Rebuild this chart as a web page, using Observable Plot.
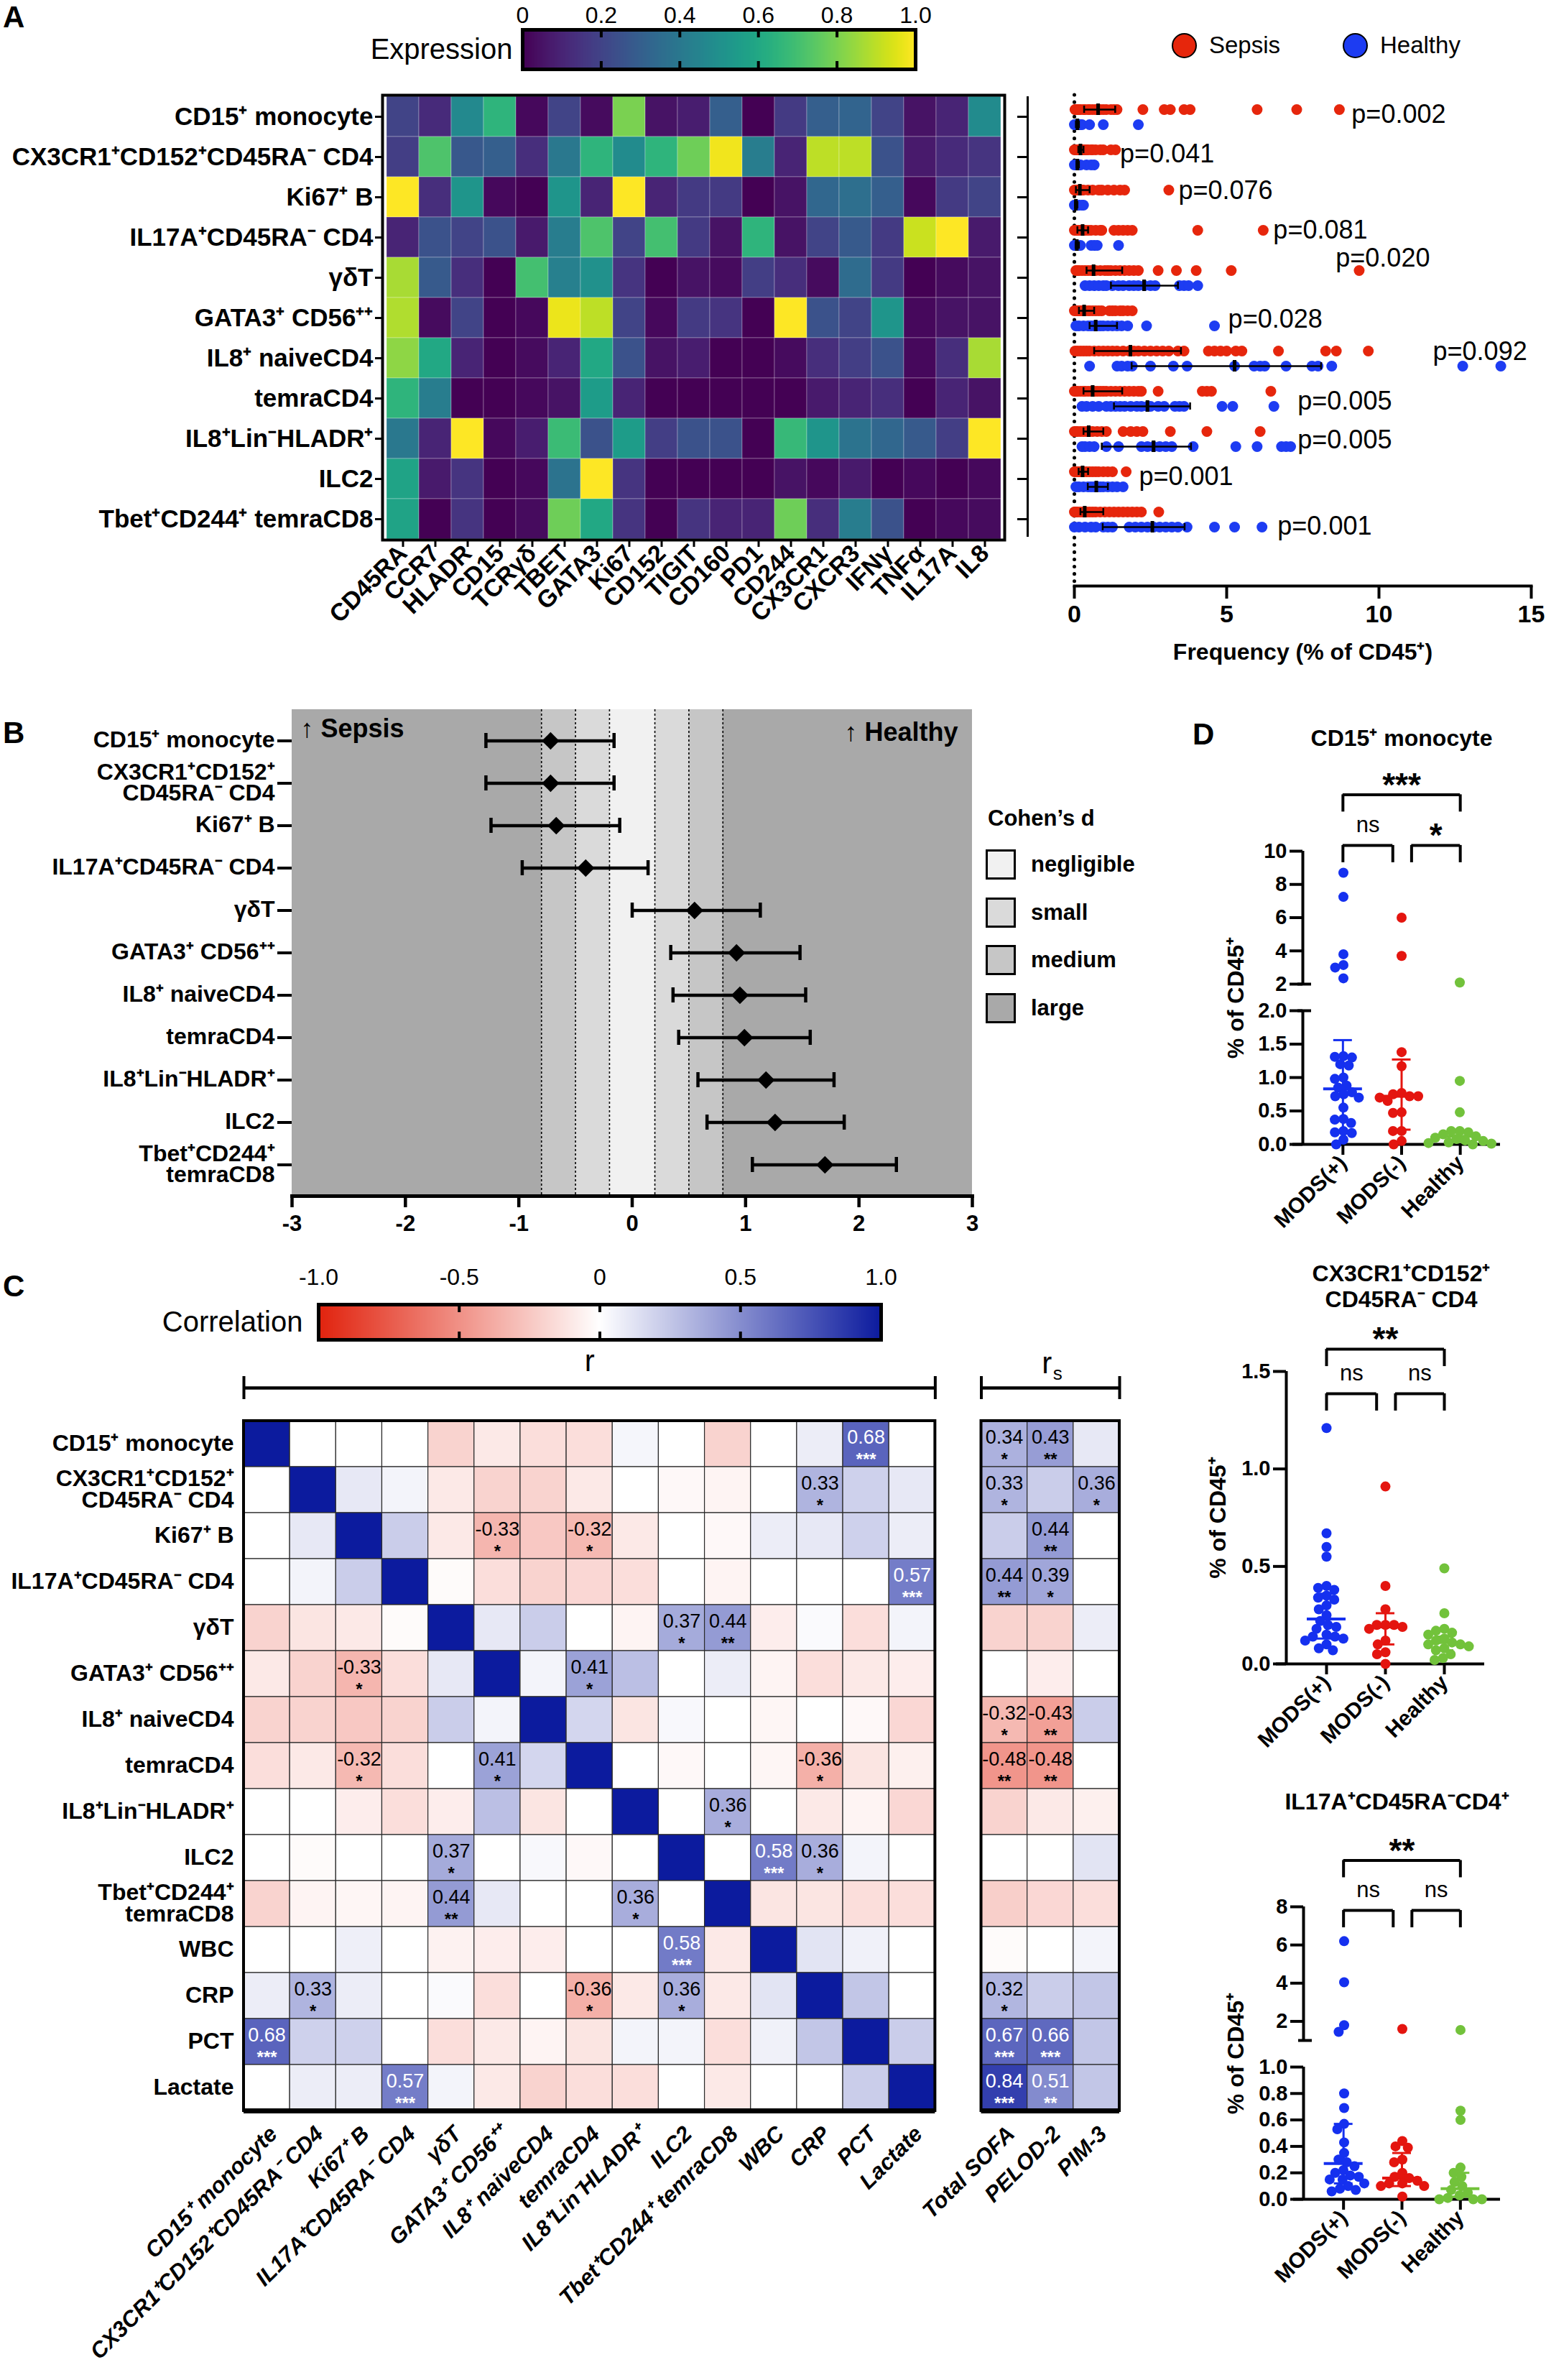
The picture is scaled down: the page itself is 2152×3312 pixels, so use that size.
<!DOCTYPE html>
<html><head><meta charset="utf-8">
<script src="https://cdn.jsdelivr.net/npm/d3@7"></script>
<script src="https://cdn.jsdelivr.net/npm/@observablehq/plot@0.6"></script>
<style>
body{margin:0;background:#fff;}
#page{position:relative;width:2152px;height:3312px;overflow:hidden;background:#fff;font-family:'Liberation Sans',Arial,Helvetica,sans-serif;color:#000;}
.lbl{position:absolute;white-space:nowrap;line-height:1;}
</style></head>
<body><div id="page"></div>
<script>
// ===================== DATA =====================
// Panel A
const markersA = ["CD45RA","CCR7","HLADR","CD15","TCRγδ","TBET","GATA3","Ki67","CD152","TIGIT","CD160","PD1","CD244","CX3CR1","CXCR3","IFNγ","TNFα","IL17A","IL8"];
const cellTypes = ["CD15⁺ monocyte","CX3CR1⁺CD152⁺CD45RA⁻ CD4","Ki67⁺ B","IL17A⁺CD45RA⁻ CD4","γδT","GATA3⁺ CD56⁺⁺","IL8⁺ naiveCD4","temraCD4","IL8⁺Lin⁻HLADR⁺","ILC2","Tbet⁺CD244⁺ temraCD8"];
const expression = [
 [0.2,0.12,0.47,0.65,0.02,0.2,0.03,0.8,0.05,0.08,0.3,0.0,0.17,0.3,0.32,0.2,0.05,0.1,0.48],
 [0.18,0.72,0.27,0.3,0.13,0.4,0.65,0.48,0.65,0.78,0.98,0.42,0.1,0.9,0.9,0.25,0.07,0.12,0.15],
 [1.0,0.13,0.52,0.02,0.0,0.52,0.1,1.0,0.1,0.17,0.17,0.0,0.05,0.33,0.36,0.3,0.02,0.17,0.2],
 [0.1,0.25,0.2,0.25,0.07,0.42,0.72,0.2,0.7,0.17,0.05,0.65,0.05,0.2,0.28,0.17,0.92,1.0,0.07],
 [0.87,0.28,0.13,0.0,0.7,0.43,0.5,0.15,0.0,0.05,0.03,0.18,0.13,0.03,0.35,0.17,0.0,0.03,0.05],
 [0.88,0.03,0.2,0.0,0.02,0.97,0.9,0.2,0.02,0.17,0.15,0.0,1.0,0.25,0.2,0.52,0.02,0.05,0.05],
 [0.83,0.6,0.1,0.0,0.03,0.1,0.6,0.25,0.05,0.08,0.0,0.0,0.03,0.13,0.18,0.25,0.02,0.13,0.87],
 [0.65,0.42,0.0,0.0,0.02,0.05,0.55,0.1,0.0,0.0,0.0,0.0,0.0,0.07,0.1,0.13,0.0,0.1,0.05],
 [0.4,0.1,1.0,0.02,0.08,0.68,0.25,0.55,0.18,0.25,0.25,0.0,0.67,0.52,0.38,0.33,0.28,0.18,1.0],
 [0.58,0.07,0.15,0.0,0.02,0.38,1.0,0.15,0.0,0.0,0.0,0.0,0.05,0.02,0.07,0.0,0.02,0.0,0.02],
 [0.58,0.0,0.15,0.0,0.03,0.78,0.6,0.15,0.0,0.15,0.1,0.1,0.78,0.13,0.42,0.25,0.0,0.02,0.03]
];
const expressionTicks = [0,0.2,0.4,0.6,0.8,1.0];
const sepsisFreq = [
 [0.02,0.05,0.1,0.15,0.2,0.3,0.35,0.45,0.5,0.6,0.7,0.75,0.85,0.95,1.05,1.2,1.3,1.4,2.25,2.95,3.15,3.6,3.8,6.0,7.3,8.7],
 [0,0.05,0.1,0.12,0.15,0.18,0.2,0.22,0.25,0.3,0.35,0.4,0.45,0.55,0.6,0.7,0.85,0.95,1.2,1.35],
 [0,0.05,0.1,0.12,0.15,0.2,0.25,0.3,0.45,0.6,0.8,0.9,1.1,1.3,1.5,1.65,3.1],
 [0,0.05,0.1,0.15,0.2,0.25,0.3,0.35,0.45,0.55,0.7,0.85,0.9,1.3,1.45,1.6,1.75,1.9,4.05,6.2],
 [0.05,0.1,0.15,0.25,0.35,0.45,0.55,0.6,0.7,0.85,1.0,1.1,1.2,1.35,1.5,1.65,1.8,1.95,2.1,2.75,3.35,4.0,5.15,9.35],
 [0,0.05,0.1,0.15,0.2,0.25,0.3,0.35,0.45,0.5,0.6,0.7,0.8,0.9,1.15,1.25,1.35,1.5,1.6,1.75,1.9],
 [0.02,0.1,0.2,0.3,0.4,0.5,0.65,0.8,0.95,1.1,1.25,1.4,1.6,1.8,1.95,2.1,2.3,2.5,2.7,2.9,3.1,3.4,3.6,4.4,4.6,4.8,5.0,5.3,5.5,6.7,8.25,8.6,9.65],
 [0,0.05,0.1,0.2,0.3,0.35,0.45,0.55,0.65,0.75,0.85,0.95,1.05,1.2,1.35,1.5,1.65,1.8,1.95,2.1,2.2,2.75,4.2,4.35,4.5,6.45],
 [0,0.05,0.1,0.2,0.3,0.4,0.5,0.6,0.75,0.9,1.05,1.6,1.85,2.05,2.25,3.15,4.35,6.1],
 [0,0.05,0.1,0.15,0.2,0.25,0.3,0.4,0.5,0.6,0.7,0.8,0.95,1.1,1.25,1.7],
 [0,0.05,0.1,0.2,0.3,0.4,0.5,0.6,0.7,0.85,1.0,1.15,1.3,1.45,1.6,1.75,1.9,2.05,2.2,2.77]
];
const healthyFreq = [
 [0,0.05,0.08,0.1,0.12,0.15,0.2,0.25,0.5,0.95,2.1],
 [0,0.05,0.08,0.1,0.12,0.15,0.2,0.4,0.55,0.65],
 [0,0.02,0.05,0.08,0.1,0.15,0.25,0.3],
 [0,0.03,0.05,0.1,0.12,0.2,0.55,0.65,0.75,1.45],
 [0.35,0.5,0.65,0.8,0.95,1.05,1.25,1.45,1.6,1.8,1.95,2.1,2.3,2.5,2.65,3.45,3.6,3.75,4.05],
 [0.05,0.15,0.3,0.45,0.55,0.65,0.75,0.85,0.95,1.1,1.25,1.4,1.55,1.75,2.37,4.6],
 [0.5,1.4,1.55,1.75,1.9,2.5,3.25,3.7,5.26,5.9,6.1,6.25,6.95,7.8,8.0,8.45,12.75,14.0],
 [0.25,0.4,0.6,0.8,1.05,1.2,1.35,1.5,1.65,1.85,2.05,2.2,2.4,2.5,2.75,2.95,3.3,3.45,3.6,4.85,5.2,6.55],
 [0.25,0.35,0.5,0.65,1.05,1.45,2.2,2.4,2.6,2.8,3.0,3.2,3.9,5.3,6.0,6.8,6.95,7.1],
 [0.05,0.15,0.3,0.45,0.55,0.65,0.75,0.85,0.95,1.1,1.25,1.4,1.6],
 [0,0.15,0.35,0.55,0.7,0.95,1.1,1.25,1.8,2.0,2.2,2.4,2.6,2.8,3.0,3.2,3.4,3.7,4.6,5.26,6.16]
];
const sepsisMedian = [0.78,0.2,0.18,0.27,0.63,0.32,1.84,0.6,0.47,0.27,0.34];
const sepsisQ1 = [0.32,0.13,0.05,0.1,0.4,0.15,0.65,0.3,0.3,0.14,0.2];
const sepsisQ3 = [1.34,0.3,0.5,0.45,1.57,0.65,3.5,1.57,0.95,0.45,0.95];
const healthyMedian = [0.1,0.1,0.05,0.08,2.29,0.7,5.26,2.4,2.6,0.72,2.56];
const healthyQ1 = [0.05,0.07,0.02,0.04,1.2,0.5,1.88,1.3,0.9,0.44,0.93];
const healthyQ3 = [0.15,0.15,0.1,0.15,3.4,1.4,8.1,3.8,3.83,1.1,3.62];
const pValues = ["p=0.002","p=0.041","p=0.076","p=0.081","p=0.020","p=0.028","p=0.092","p=0.005","p=0.005","p=0.001","p=0.001"];
const pLabelAt = [9.1,1.5,3.42,6.53,8.58,5.05,11.77,7.33,7.33,2.12,6.67];
const freqTicks = [0,5,10,15];

// Panel B
const cohenD  = [-0.72,-0.72,-0.67,-0.41,0.55,0.92,0.95,0.99,1.18,1.26,1.70];
const cohenLo = [-1.29,-1.29,-1.245,-0.97,0.0,0.34,0.36,0.41,0.58,0.66,1.06];
const cohenHi = [-0.16,-0.16,-0.11,0.14,1.13,1.48,1.53,1.57,1.78,1.87,2.33];
const cohenLevels = ["negligible","small","medium","large"];
const cohenCut = [0.2,0.5,0.8];
const cohenGrays = ["#f1f1f1","#dadada","#c6c6c6","#a9a9a9"];
const cohenTicks = [-3,-2,-1,0,1,2,3];

// Panel C
const cFeatures = ["CD15⁺ monocyte","CX3CR1⁺CD152⁺CD45RA⁻ CD4","Ki67⁺ B","IL17A⁺CD45RA⁻ CD4","γδT","GATA3⁺ CD56⁺⁺","IL8⁺ naiveCD4","temraCD4","IL8⁺Lin⁻HLADR⁺","ILC2","Tbet⁺CD244⁺ temraCD8","WBC","CRP","PCT","Lactate"];
const cScores = ["Total SOFA","PELOD-2","PIM-3"];
const corrMain = [
 [1,0,0,0,-0.2,-0.1,-0.15,-0.15,0.04,0,-0.2,0,0.08,0.68,0],
 [0,1,0.1,0.05,-0.1,-0.2,-0.2,-0.1,0,-0.03,-0.05,0,0.33,0.2,0.1],
 [0,0.1,1,0.22,-0.1,-0.33,-0.25,-0.32,-0.1,0,-0.03,0.08,0.1,0.2,0.08],
 [0,0.05,0.22,1,-0.02,-0.15,-0.2,-0.18,-0.15,0,-0.05,0,0,0,0.57],
 [-0.2,-0.12,-0.1,-0.02,1,0.1,0.22,0,-0.05,0.37,0.44,-0.08,0.02,-0.15,0.05],
 [-0.1,-0.2,-0.33,-0.15,0.1,1,0.05,0.41,0.28,0,0.08,-0.05,-0.15,-0.1,-0.08],
 [-0.2,-0.2,-0.25,-0.2,0.22,0.05,1,0.18,-0.12,0.03,0,-0.04,0,-0.03,-0.18],
 [-0.15,-0.1,-0.32,-0.15,0,0.41,0.18,1,0,-0.03,0,-0.04,-0.36,-0.12,-0.07],
 [0,0,-0.08,-0.15,-0.08,0.28,-0.12,0,1,0,0.36,0,-0.1,-0.05,-0.18],
 [0,-0.02,0,0,0.37,0,0.03,-0.03,0,1,0,0.58,0.36,0.05,0],
 [-0.2,-0.05,-0.04,-0.05,0.44,0.1,0,0,0.36,0,1,-0.12,-0.12,-0.15,-0.15],
 [0,0,0.07,0,-0.06,-0.08,-0.08,0,0,0.58,-0.1,1,0.12,0.06,0],
 [0.08,0.33,0.08,0,0.02,-0.15,0,-0.36,-0.1,0.36,-0.1,0.12,1,0.25,0],
 [0.68,0.2,0.2,0,-0.15,-0.1,-0.05,-0.12,0.05,0.05,-0.15,0.06,0.25,1,0.22],
 [0,0.08,0.08,0.57,0.05,-0.1,-0.2,-0.15,-0.15,0,-0.1,0,0,0.22,1]
];
const corrScores = [
 [0.34,0.43,0.1],[0.33,0.22,0.36],[0.22,0.44,0],[0.44,0.39,0],[-0.2,-0.2,0.08],
 [0,-0.08,0],[-0.32,-0.43,0.22],[-0.48,-0.48,0],[-0.2,-0.1,-0.07],[0,0,0.12],
 [-0.22,-0.18,-0.15],[-0.02,0,0.05],[0.32,0.22,0.25],[0.67,0.66,0.25],[0.84,0.51,0.25]
];
const sigMain = [[0,13,"***"],[1,12,"*"],[2,5,"*"],[2,7,"*"],[3,14,"***"],[4,9,"*"],[4,10,"**"],[5,2,"*"],[5,7,"*"],[7,2,"*"],[7,5,"*"],[7,12,"*"],[8,10,"*"],[9,4,"*"],[9,11,"***"],[9,12,"*"],[10,4,"**"],[10,8,"*"],[11,9,"***"],[12,1,"*"],[12,7,"*"],[12,9,"*"],[13,0,"***"],[14,3,"***"]];
const sigScores = [[0,0,"*"],[0,1,"**"],[1,0,"*"],[1,2,"*"],[2,1,"**"],[3,0,"**"],[3,1,"*"],[6,0,"*"],[6,1,"**"],[7,0,"**"],[7,1,"**"],[12,0,"*"],[13,0,"***"],[13,1,"***"],[14,0,"***"],[14,1,"**"]];
const corrTicks = [-1,-0.5,0,0.5,1];

// Panel D
const groupsD = ["MODS(+)","MODS(-)","Healthy"];
const cd15ModsPos = [8.7,7.25,3.8,3.15,3.0,2.35,1.32,1.31,1.3,1.2,1.18,1.0,0.98,0.88,0.85,0.78,0.75,0.72,0.7,0.55,0.38,0.37,0.32,0.2,0.18,0.17,0.07,0.0];
const cd15ModsNeg = [6.0,3.7,1.38,1.17,0.77,0.75,0.72,0.72,0.65,0.7,0.48,0.47,0.2,0.2,0.05,0.0];
const cd15Healthy = [2.1,0.95,0.48,0.2,0.2,0.18,0.15,0.12,0.1,0.08,0.06,0.05,0.03,0.02,0.01,0.0];
const cd15Center = [0.83,0.72,0.12], cd15Low = [0.2,0.22,0.04], cd15High = [1.56,1.27,0.2];
const cd15Brackets = [["MODS(+)","Healthy","***",13.4],["MODS(+)","MODS(-)","ns",10.35],["MODS(-)","Healthy","*",10.35]];
const cx3ModsPos = [1.21,0.67,0.6,0.55,0.4,0.39,0.38,0.35,0.34,0.33,0.3,0.28,0.25,0.22,0.2,0.19,0.18,0.15,0.14,0.14,0.13,0.12,0.1,0.08,0.07];
const cx3ModsNeg = [0.91,0.4,0.28,0.2,0.2,0.2,0.19,0.18,0.12,0.1,0.06,0.05,0.0];
const cx3Healthy = [0.49,0.26,0.18,0.17,0.16,0.15,0.13,0.12,0.11,0.1,0.1,0.09,0.08,0.07,0.05,0.03,0.02];
const cx3Center = [0.23,0.19,0.11], cx3Low = [0.13,0.1,0.07], cx3High = [0.36,0.26,0.14];
const cx3Brackets = [["MODS(+)","Healthy","**",1.614],["MODS(+)","MODS(-)","ns",1.386],["MODS(-)","Healthy","ns",1.386]];
const il17ModsPos = [6.2,4.05,1.8,1.45,0.8,0.69,0.57,0.53,0.43,0.35,0.3,0.28,0.25,0.22,0.2,0.18,0.17,0.15,0.15,0.12,0.1,0.08,0.07,0.06];
const il17ModsNeg = [1.6,0.44,0.4,0.39,0.3,0.28,0.2,0.17,0.16,0.14,0.12,0.12,0.1,0.1,0.02];
const il17Healthy = [1.55,0.67,0.6,0.24,0.2,0.17,0.13,0.1,0.07,0.05,0.03,0.01,0.0,0.0,0.0];
const il17Center = [0.27,0.16,0.08], il17Low = [0.12,0.1,0.02], il17High = [0.57,0.35,0.2];
const il17Brackets = [["MODS(+)","Healthy","**",10.43],["MODS(+)","MODS(-)","ns",7.81],["MODS(-)","Healthy","ns",7.81]];

// ===================== STYLE / HELPERS =====================
const FONT = "'Liberation Sans', Arial, Helvetica, sans-serif";
const RED_A = "#e6260c", BLUE_A = "#1d3cf2";
const colorsD = ["#1530ef","#e4150f","#72c23b"];
const corrColors = ["#e1230e","#ffffff","#0c1b9e"];
const page = document.getElementById("page");
const st = () => ({fontFamily: FONT, background: "transparent", overflow: "visible", maxWidth: "none"});
function put(el, left, top) {
  el.style.position = "absolute"; el.style.left = left + "px"; el.style.top = top + "px";
  el.style.overflow = "visible"; el.style.background = "transparent"; el.style.maxWidth = "none";
  page.appendChild(el); return el;
}
function html(text, left, top, css) {
  const d = document.createElement("div"); d.className = "lbl"; d.textContent = text;
  d.style.left = left + "px"; d.style.top = top + "px"; Object.assign(d.style, css || {});
  page.appendChild(d); return d;
}
function box(left, top, w, h, css) {
  const d = document.createElement("div"); d.style.position = "absolute";
  d.style.left = left + "px"; d.style.top = top + "px"; d.style.width = w + "px"; d.style.height = h + "px";
  d.style.boxSizing = "border-box"; Object.assign(d.style, css || {}); page.appendChild(d); return d;
}
function safe(name, fn) { try { fn(); } catch (e) { html(name + ": " + e.message, 20, 3200, {fontSize: "20px", color: "red"}); console.error(e); } }
const twoLine = {"CX3CR1⁺CD152⁺CD45RA⁻ CD4": "CX3CR1⁺CD152⁺\nCD45RA⁻ CD4", "Tbet⁺CD244⁺ temraCD8": "Tbet⁺CD244⁺\ntemraCD8"};

// Panel letters
[["A",4,3],["B",4,999],["C",4,1769],["D",1660,1001]].forEach(([t,l,tp]) => html(t, l, tp, {fontSize: "42px", fontWeight: "bold"}));

// ===================== PANEL A: heatmap =====================
safe("A1", () => {
  const cellsA = cellTypes.flatMap((ct, i) => markersA.map((m, j) => ({cell: ct, marker: m, v: expression[i][j]})));
  put(Plot.plot({
    width: 1440, height: 900, marginLeft: 532, marginRight: 42, marginTop: 132, marginBottom: 149,
    style: st(),
    x: {domain: markersA, padding: 0, axis: null},
    y: {domain: cellTypes, padding: 0, axis: null},
    color: {type: "linear", scheme: "viridis", domain: [0, 1]},
    marks: [
      Plot.cell(cellsA, {x: "marker", y: "cell", fill: "v", stroke: "#ffffff", strokeOpacity: 0.3, strokeWidth: 1}),
      Plot.frame({stroke: "black", strokeWidth: 4}),
      Plot.axisX({anchor: "bottom", tickSize: 10, strokeWidth: 3, tickRotate: -45, fontSize: 34, fontWeight: "bold", tickPadding: 3, label: null}),
      Plot.axisY({anchor: "left", tickSize: 10, strokeWidth: 3, fontSize: 35, fontWeight: "bold", tickPadding: 3, label: null})
    ]
  }), 0, 0);
});
// colorbar A
safe("A0", () => {
  put(Plot.plot({
    width: 820, height: 110, marginLeft: 247, marginRight: 26, marginTop: 41, marginBottom: 14,
    style: st(),
    x: {domain: [0, 1], axis: null}, y: {domain: [0, 1], axis: null},
    color: {type: "linear", scheme: "viridis", domain: [0, 1]},
    marks: [
      Plot.raster({fill: (x, y) => x, x1: 0, x2: 1, y1: 0, y2: 1}),
      Plot.tickX(expressionTicks.slice(1, -1), {insetBottom: 44, strokeWidth: 4}),
      Plot.tickX(expressionTicks.slice(1, -1), {insetTop: 44, strokeWidth: 4}),
      Plot.frame({strokeWidth: 5}),
      Plot.axisX({anchor: "top", ticks: expressionTicks, tickFormat: d => d === 0 ? "0" : d.toFixed(1), tickSize: 0, tickPadding: 10, fontSize: 32, label: null}),
      Plot.text(["Expression"], {frameAnchor: "left", dx: -14, textAnchor: "end", fontSize: 40})
    ]
  }), 480, 0);
});
// legend A
box(1631, 46, 35, 35, {borderRadius: "50%", background: RED_A, border: "2px solid #000"});
html("Sepsis", 1683, 46, {fontSize: "33px"});
box(1869, 46, 35, 35, {borderRadius: "50%", background: BLUE_A, border: "2px solid #000"});
html("Healthy", 1921, 46, {fontSize: "33px"});

// ===================== PANEL A: dot plot =====================
safe("A2", () => {
  const sepDots = cellTypes.flatMap((ct, i) => sepsisFreq[i].map(v => ({cell: ct, v})));
  const hlDots = cellTypes.flatMap((ct, i) => healthyFreq[i].map(v => ({cell: ct, v})));
  const sepStats = cellTypes.map((ct, i) => ({cell: ct, m: sepsisMedian[i], q1: sepsisQ1[i], q3: sepsisQ3[i]}));
  const hlStats = cellTypes.map((ct, i) => ({cell: ct, m: healthyMedian[i], q1: healthyQ1[i], q3: healthyQ3[i]}));
  const pNudge = [-3,-4,-9,-10,-27,2,-9,4,2,-3,10];
  const statMarks = (data, dy) => [
    Plot.ruleY(data, {y: "cell", x1: "q1", x2: "q3", dy, strokeWidth: 2.5}),
    Plot.tickX(data, {x: "q1", y: "cell", dy, insetTop: 23, insetBottom: 23, strokeWidth: 2.5}),
    Plot.tickX(data, {x: "q3", y: "cell", dy, insetTop: 23, insetBottom: 23, strokeWidth: 2.5}),
    Plot.tickX(data, {x: "m", y: "cell", dy, insetTop: 20, insetBottom: 20, strokeWidth: 5})
  ];
  put(Plot.plot({
    width: 752, height: 940, marginLeft: 95, marginRight: 21, marginTop: 132, marginBottom: 125,
    style: st(),
    x: {domain: [0, 15], axis: null},
    y: {type: "band", domain: cellTypes, range: [132, 751], padding: 0, axis: null},
    marks: [
      Plot.ruleX([0], {strokeWidth: 5, strokeDasharray: "0.1,10", strokeLinecap: "round"}),
      Plot.frame({anchor: "bottom", strokeWidth: 4}),
      Plot.axisX({anchor: "bottom", ticks: freqTicks, tickSize: 18, strokeWidth: 4, fontSize: 34, fontWeight: "bold", tickPadding: 8, label: null}),
      Plot.axisY({anchor: "left", dx: -65, tickSize: 14, strokeWidth: 3, tickFormat: () => "", label: null}),
      Plot.ruleX([0], {dx: -65, strokeWidth: 3, insetTop: 2, insetBottom: 68}),
      Plot.dot(sepDots, {x: "v", y: "cell", dy: -10, r: 7.5, fill: RED_A}),
      Plot.dot(hlDots, {x: "v", y: "cell", dy: 11, r: 7.5, fill: BLUE_A}),
      ...statMarks(sepStats, -10),
      ...statMarks(hlStats, 11),
      ...cellTypes.map((ct, i) => Plot.text([{cell: ct, p: pValues[i], at: pLabelAt[i]}], {x: "at", y: "cell", text: "p", dy: pNudge[i], textAnchor: "start", fontSize: 36})),
      Plot.text(["Frequency (% of CD45⁺)"], {frameAnchor: "bottom", dy: 92, lineAnchor: "middle", fontSize: 32, fontWeight: "bold"})
    ]
  }), 1400, 0);
});

// ===================== PANEL B =====================
safe("B", () => {
  const effects = cellTypes.map((ct, i) => ({cell: ct, d: cohenD[i], lo: cohenLo[i], hi: cohenHi[i]}));
  const bands = [
    {level: "large", lo: -3, hi: 3},
    {level: "medium", lo: -cohenCut[2], hi: cohenCut[2]},
    {level: "small", lo: -cohenCut[1], hi: cohenCut[1]},
    {level: "negligible", lo: -cohenCut[0], hi: cohenCut[0]}
  ];
  const cutLines = cohenCut.flatMap(c => [-c, c]);
  put(Plot.plot({
    width: 1372, height: 790, marginLeft: 406, marginRight: 19, marginTop: 27, marginBottom: 86,
    style: st(),
    x: {domain: [-3, 3], axis: null},
    y: {type: "band", domain: cellTypes, range: [37, 694], padding: 0, axis: null},
    color: {type: "ordinal", domain: cohenLevels, range: cohenGrays},
    marks: [
      Plot.rect(bands, {x1: "lo", x2: "hi", fill: "level"}),
      Plot.ruleX(cutLines, {strokeDasharray: "3,3", strokeWidth: 1.6}),
      Plot.ruleY(effects, {y: "cell", x1: "lo", x2: "hi", strokeWidth: 4.5}),
      Plot.tickX(effects, {x: "lo", y: "cell", insetTop: 19, insetBottom: 19, strokeWidth: 4.5}),
      Plot.tickX(effects, {x: "hi", y: "cell", insetTop: 19, insetBottom: 19, strokeWidth: 4.5}),
      Plot.dot(effects, {x: "d", y: "cell", symbol: "diamond2", r: 11, fill: "black"}),
      Plot.frame({anchor: "bottom", strokeWidth: 5}),
      Plot.axisX({anchor: "bottom", ticks: cohenTicks, tickFormat: d => String(d), tickSize: 16, strokeWidth: 4.5, fontSize: 31, fontWeight: "bold", tickPadding: 10, label: null}),
      Plot.axisY({anchor: "left", tickSize: 20, strokeWidth: 4, fontSize: 32, fontWeight: "bold", tickPadding: 4, lineHeight: 0.92, label: null, tickFormat: d => twoLine[d] || d}),
      Plot.text(["↑ Sepsis"], {frameAnchor: "top-left", dx: 12, dy: 27, textAnchor: "start", lineAnchor: "middle", fontSize: 36, fontWeight: "bold"}),
      Plot.text(["↑ Healthy"], {frameAnchor: "top-right", dx: -20, dy: 32, textAnchor: "end", lineAnchor: "middle", fontSize: 36, fontWeight: "bold"})
    ]
  }), 0, 960);
  html("Cohen’s d", 1375, 1123, {fontSize: "31px", fontWeight: "bold"});
  [1203, 1270, 1336, 1403].forEach((cy, i) => {
    box(1372, cy - 21, 42, 42, {background: cohenGrays[i], border: "3px solid #000"});
    html(cohenLevels[i], 1435, cy - 16, {fontSize: "31px", fontWeight: "bold"});
  });
});

// ===================== PANEL C: colorbar =====================
safe("C0", () => {
  put(Plot.plot({
    width: 1300, height: 150, marginLeft: 443, marginRight: 74, marginTop: 75, marginBottom: 26,
    style: st(),
    x: {domain: [-1, 1], axis: null}, y: {domain: [0, 1], axis: null},
    color: {type: "linear", domain: [-1, 0, 1], range: corrColors, interpolate: "rgb"},
    marks: [
      Plot.raster({fill: (x, y) => x, x1: -1, x2: 1, y1: 0, y2: 1}),
      Plot.tickX(corrTicks.slice(1, -1), {insetBottom: 38, strokeWidth: 4}),
      Plot.tickX(corrTicks.slice(1, -1), {insetTop: 38, strokeWidth: 4}),
      Plot.frame({strokeWidth: 5}),
      Plot.axisX({anchor: "top", ticks: corrTicks, tickFormat: d => d === 0 ? "0" : d.toFixed(1), tickSize: 0, tickPadding: 28, fontSize: 32, label: null}),
      Plot.text(["Correlation"], {frameAnchor: "left", dx: -22, textAnchor: "end", fontSize: 40})
    ]
  }), 0, 1740);
});

// ===================== PANEL C: correlation heatmap =====================
safe("C1", () => {
  const nMain = cFeatures.length, nRows = cFeatures.length, off = nMain + 1;
  const cells = [];
  cFeatures.forEach((f, r) => {
    corrMain[r].forEach((v, c) => cells.push({x1: c, x2: c + 1, y1: r, y2: r + 1, v}));
    corrScores[r].forEach((v, c) => cells.push({x1: off + c, x2: off + c + 1, y1: r, y2: r + 1, v}));
  });
  const ann = sigMain.map(([r, c, s]) => ({x: c + 0.5, y: r + 0.5, v: corrMain[r][c], s}))
    .concat(sigScores.map(([r, c, s]) => ({x: off + c + 0.5, y: r + 0.5, v: corrScores[r][c], s})));
  const annW = ann.filter(d => Math.abs(d.v) >= 0.5), annB = ann.filter(d => Math.abs(d.v) < 0.5);
  const frames = [{x1: 0, x2: nMain, y1: 0, y2: nRows}, {x1: off, x2: off + cScores.length, y1: 0, y2: nRows}];
  const colLabels = cFeatures.map((f, i) => ({x: i + 0.5, t: f})).concat(cScores.map((s, i) => ({x: off + i + 0.5, t: s})));
  const annMarks = (data, fill) => [
    Plot.text(data, {x: "x", y: "y", text: d => d.v.toFixed(2), dy: -9, fontSize: 27, fill}),
    Plot.text(data, {x: "x", y: "y", text: "s", dy: 22, fontSize: 24, fontWeight: "bold", fill})
  ];
  put(Plot.plot({
    width: 1620, height: 1432, marginLeft: 339, marginRight: 62, marginTop: 97, marginBottom: 375,
    style: st(),
    x: {domain: [0, off + cScores.length], axis: null},
    y: {domain: [0, nRows], reverse: true, axis: null},
    color: {type: "linear", domain: [-1, 0, 1], range: corrColors, interpolate: "rgb"},
    marks: [
      Plot.rect(cells, {x1: "x1", x2: "x2", y1: "y1", y2: "y2", fill: "v", stroke: "#2b2b2b", strokeWidth: 1.2}),
      Plot.rect(frames, {x1: "x1", x2: "x2", y1: "y1", y2: "y2", fill: "none", stroke: "black", strokeWidth: 4}),
      Plot.ruleY(frames, {y: "y2", x1: "x1", x2: "x2", strokeWidth: 7}),
      ...annMarks(annB, "black"),
      ...annMarks(annW, "white"),
      Plot.text(cFeatures, {x: 0, y: (d, i) => i + 0.5, text: d => twoLine[d] || d, textAnchor: "end", dx: -14, fontSize: 32, fontWeight: "bold", lineHeight: 0.95}),
      Plot.text(colLabels, {x: "x", y: nRows, text: "t", rotate: -45, textAnchor: "end", dx: 9, dy: 27, fontSize: 31, fontWeight: "bold", fontStyle: "italic"}),
      Plot.ruleY(frames, {y: "y1", x1: "x1", x2: "x2", dy: -46, strokeWidth: 4.5}),
      Plot.ruleX(frames, {x: "x1", y1: "y1", y2: "y1", dy: -46, insetTop: -16, insetBottom: -16, strokeWidth: 4}),
      Plot.ruleX(frames, {x: "x2", y1: "y1", y2: "y1", dy: -46, insetTop: -16, insetBottom: -16, strokeWidth: 4}),
      Plot.text([frames[0]], {x: d => (d.x1 + d.x2) / 2, y: "y1", text: () => "r", dy: -83, fontSize: 42}),
      Plot.text([frames[1]], {x: d => (d.x1 + d.x2) / 2, y: "y1", text: () => "r", dx: -5, dy: -80, fontSize: 42}),
      Plot.text([frames[1]], {x: d => (d.x1 + d.x2) / 2, y: "y1", text: () => "s", dx: 10, dy: -66, fontSize: 26})
    ]
  }), 0, 1880);
});

// ===================== PANEL D =====================
function dPanel(spec) {
  const dots = groupsD.flatMap((g, i) => spec.values[i].map(v => ({g, v})));
  const stats = groupsD.map((g, i) => ({g, i, c: spec.center[i], lo: spec.low[i], hi: spec.high[i]}));
  const bks = spec.brackets.map(([a, b, label, at]) => {
    let x1 = groupsD.indexOf(a), x2 = groupsD.indexOf(b);
    if (x2 - x1 === 1) { if (x1 === 0) x2 -= 0.15; else x1 += 0.17; }
    return {x1, x2, label, at, mid: (x1 + x2) / 2};
  });
  const segs = spec.segments;
  segs.forEach((s, k) => {
    const first = k === 0, last = k === segs.length - 1;
    const lowerMax = last ? -Infinity : segs[k + 1].domain[1];
    const segDots = dots.filter(d => last ? d.v <= s.domain[1] : d.v > lowerMax);
    const common = {width: spec.width, height: s.height, marginLeft: spec.mL, marginRight: spec.mR, marginTop: s.mT, marginBottom: s.mB, style: st()};
    const marks = [
      Plot.ruleX([-0.5], {dx: -15, strokeWidth: 4}),
      Plot.axisY({anchor: "left", ticks: s.ticks, tickFormat: s.fmt, tickSize: 18, dx: -15, strokeWidth: 4, fontSize: 29, fontWeight: "bold", tickPadding: 4, label: null})
    ];
    if (!last) marks.push(Plot.ruleY([s.domain[0]], {x1: -0.5, x2: -0.5, insetLeft: -22, insetRight: 3, strokeWidth: 4}));
    if (s.breakTop) marks.push(Plot.ruleY([s.domain[1]], {x1: -0.5, x2: -0.5, insetLeft: -22, insetRight: 3, strokeWidth: 4}));
    if (last) {
      marks.push(
        Plot.ruleY([s.domain[0]], {x1: -0.5, x2: groupsD.length - 0.5, insetLeft: -29, insetRight: -15, strokeWidth: 4}),
        Plot.axisX({anchor: "bottom", ticks: groupsD.map((g, i) => i), tickFormat: i => groupsD[i], tickSize: 15, strokeWidth: 4, tickRotate: -45, fontSize: 30, fontWeight: "bold", tickPadding: 6, label: null}),
        Plot.ruleX(stats, {x: "i", y1: "lo", y2: "hi", stroke: "g", strokeWidth: 3}),
        Plot.ruleY(stats, {y: "hi", x1: "i", x2: "i", insetLeft: -13, insetRight: -13, stroke: "g", strokeWidth: 3}),
        Plot.ruleY(stats, {y: "lo", x1: "i", x2: "i", insetLeft: -13, insetRight: -13, stroke: "g", strokeWidth: 3}),
        Plot.ruleY(stats, {y: "c", x1: "i", x2: "i", insetLeft: -27, insetRight: -27, stroke: "g", strokeWidth: 4}),
        Plot.text(["% of CD45⁺"], {frameAnchor: "left", dx: spec.ylDx, dy: spec.ylDy, rotate: -90, textAnchor: "middle", lineAnchor: "middle", fontSize: 32, fontWeight: "bold"})
      );
    }
    if (first) {
      const starB = bks.filter(b => b.label !== "ns"), nsB = bks.filter(b => b.label === "ns");
      marks.push(
        Plot.ruleY(bks, {y: "at", x1: "x1", x2: "x2", strokeWidth: 4}),
        Plot.ruleX(bks, {x: "x1", y1: "at", y2: "at", insetBottom: -24, strokeWidth: 4}),
        Plot.ruleX(bks, {x: "x2", y1: "at", y2: "at", insetBottom: -24, strokeWidth: 4}),
        Plot.text(starB, {x: "mid", y: "at", text: "label", dy: -13, fontSize: 46, fontWeight: "bold"}),
        Plot.text(nsB, {x: "mid", y: "at", text: "label", dy: -28, fontSize: 31}),
        Plot.text([spec.title], {frameAnchor: "top", dx: spec.tDx, dy: spec.tDy, lineAnchor: "middle", fontSize: 32, fontWeight: "bold", lineHeight: 1.12})
      );
    }
    put(Plot.plot({...common,
      x: {domain: [-0.5, groupsD.length - 0.5], axis: null},
      y: {domain: s.domain, axis: null},
      color: {domain: groupsD, range: colorsD},
      marks
    }), spec.left, s.top);
    put(Plot.plot({...common,
      fx: {domain: groupsD, padding: 0, axis: null},
      y: {domain: s.domain, axis: null},
      color: {domain: groupsD, range: colorsD},
      marks: [Plot.dot(segDots, Plot.dodgeX({anchor: "middle", padding: -2}, {fx: "g", y: "v", r: 7, fill: "g"}))]
    }), spec.left, s.top);
  });
}
const f1 = d => d.toFixed(1), f0 = d => String(d);
safe("D1", () => dPanel({
  title: "CD15⁺ monocyte", tDx: 0, tDy: -158, left: 1600, width: 552, mL: 228, mR: 79, ylDx: -108, ylDy: -111,
  values: [cd15ModsPos, cd15ModsNeg, cd15Healthy], center: cd15Center, low: cd15Low, high: cd15High, brackets: cd15Brackets,
  segments: [
    {top: 980, height: 400, mT: 204, mB: 11, domain: [2, 10], ticks: [2,4,6,8,10], fmt: f0},
    {top: 1380, height: 330, mT: 26, mB: 118, domain: [0, 2], ticks: [0,0.5,1,1.5,2], fmt: f1, breakTop: true}
  ]
}));
safe("D2", () => dPanel({
  title: "CX3CR1⁺CD152⁺\nCD45RA⁻ CD4", tDx: 22, tDy: -119, left: 1600, width: 552, mL: 205, mR: 101, ylDx: -110, ylDy: 0,
  values: [cx3ModsPos, cx3ModsNeg, cx3Healthy], center: cx3Center, low: cx3Low, high: cx3High, brackets: cx3Brackets,
  segments: [
    {top: 1720, height: 740, mT: 188, mB: 145, domain: [0, 1.5], ticks: [0,0.5,1,1.5], fmt: f1}
  ]
}));
safe("D3", () => dPanel({
  title: "IL17A⁺CD45RA⁻CD4⁺", tDx: -7, tDy: -147, left: 1600, width: 552, mL: 229, mR: 79, ylDx: -109, ylDy: -111,
  values: [il17ModsPos, il17ModsNeg, il17Healthy], center: il17Center, low: il17Low, high: il17High, brackets: il17Brackets,
  segments: [
    {top: 2460, height: 390, mT: 193, mB: 11, domain: [1, 8], ticks: [2,4,6,8], fmt: f0},
    {top: 2850, height: 462, mT: 26, mB: 252, domain: [0, 1], ticks: [0,0.2,0.4,0.6,0.8,1], fmt: f1}
  ]
}));
</script></body></html>
